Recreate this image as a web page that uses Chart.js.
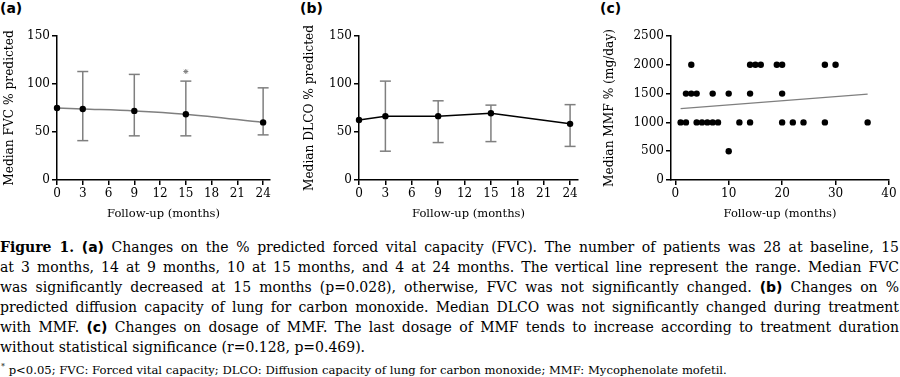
<!DOCTYPE html>
<html><head><meta charset="utf-8">
<script src="https://cdn.jsdelivr.net/npm/chart.js@4"></script>
<style>
body{margin:0;width:900px;height:377px;background:#fff;position:relative;overflow:hidden;font-family:'DejaVu Serif',serif;color:#000}
.panel{position:absolute;top:0;width:300px;height:225px}
.lab{position:absolute;top:0;font:bold 14px 'DejaVu Sans',sans-serif;line-height:17px}
.cap{position:absolute;left:0;top:237px;width:899px;font-size:14px;line-height:20px}
.cap div{text-align:justify;text-align-last:justify;white-space:nowrap}
.cap div.last{text-align-last:left}
.cap b.s{font-family:'DejaVu Sans',sans-serif}
.foot{position:absolute;left:1px;top:360px;font-size:11.6px;line-height:14px;white-space:nowrap}
</style>
</head><body>
<div class="lab" style="left:0">(a)</div>
<div class="lab" style="left:300px">(b)</div>
<div class="lab" style="left:600px">(c)</div>
<div class="panel" style="left:0"><canvas id="ca" width="300" height="225"></canvas></div>
<div class="panel" style="left:300px"><canvas id="cb" width="300" height="225"></canvas></div>
<div class="panel" style="left:600px"><canvas id="cc" width="300" height="225"></canvas></div>
<div class="cap">
<div><b>Figure 1.</b> <b class="s">(a)</b> Changes on the % predicted forced vital capacity (FVC). The number of patients was 28 at baseline, 15</div>
<div>at 3 months, 14 at 9 months, 10 at 15 months, and 4 at 24 months. The vertical line represent the range. Median FVC</div>
<div>was significantly decreased at 15 months (p=0.028), otherwise, FVC was not significantly changed. <b class="s">(b)</b> Changes on %</div>
<div>predicted diffusion capacity of lung for carbon monoxide. Median DLCO was not significantly changed during treatment</div>
<div>with MMF. <b class="s">(c)</b> Changes on dosage of MMF. The last dosage of MMF tends to increase according to treatment duration</div>
<div class="last">without statistical significance (r=0.128, p=0.469).</div>
</div>
<div class="foot"><sup style="font-size:8px">*</sup> p&lt;0.05; FVC: Forced vital capacity; DLCO: Diffusion capacity of lung for carbon monoxide; MMF: Mycophenolate mofetil.</div>
<script>
// ---- data ----
const monthsAB = [0, 3, 9, 15, 24];
const fvcMedian = [75, 74, 72, 68.5, 60];
const fvcLow = [null, 41, 46, 46, 47];
const fvcHigh = [null, 113, 110, 103, 96];
const fvcSigMonths = [15];
const fvcSigMarkY = [113];
const dlcoMedian = [62.5, 66.5, 66.5, 69.5, 58.5];
const dlcoLow = [null, 30, 39, 40, 35];
const dlcoHigh = [null, 103, 82.5, 78, 78.5];
const abXTicks = [0, 3, 6, 9, 12, 15, 18, 21, 24];
const abYTicks = [0, 50, 100, 150];
const mmfMonths = [1,2,4,5,6,7,8,12,14,20,22,24,28,36, 2,3,4,7,10,14,20, 3,14,15,16,19,20,28,30, 10];
const mmfDose   = [1000,1000,1000,1000,1000,1000,1000,1000,1000,1000,1000,1000,1000,1000,
                   1500,1500,1500,1500,1500,1500,1500,
                   2000,2000,2000,2000,2000,2000,2000,2000, 500];
const mmfFitMonths = [1, 36];
const mmfFitDose = [1240, 1490];
const mmfXTicks = [0, 10, 20, 30, 40];
const mmfYTicks = [0, 500, 1000, 1500, 2000, 2500];

const FONT = 'DejaVu Serif';
const GRAY = '#7f7f7f';

function pts(xs, ys) { return xs.map((x, i) => ({x: x, y: ys[i]})); }

function scales(o) {
  const common = (ticks) => ({
    type: 'linear',
    grid: {drawOnChartArea: false, drawTicks: true, tickLength: 5, color: '#000', lineWidth: 1.5},
    border: {display: true, color: '#000', width: 1.5},
    afterBuildTicks: s => { s.ticks = ticks.map(v => ({value: v})); }
  });
  return {
    x: Object.assign(common(o.xticks), {
      min: o.xmin, max: o.xmax,
      ticks: {font: {family: FONT, size: 12}, color: '#000', padding: 2, maxRotation: 0, autoSkip: false, callback: v => String(v)},
      title: {display: true, text: 'Follow-up (months)', font: {family: FONT, size: 11.5}, color: '#000', padding: {top: 0, bottom: 4}},
      afterFit: s => { s.height = 45; }
    }),
    y: Object.assign(common(o.yticks), {
      min: o.ymin, max: o.ymax,
      ticks: {font: {family: FONT, size: 12}, color: '#000', padding: 2, autoSkip: false, callback: v => String(v)},
      title: {display: true, text: o.ytitle, font: {family: FONT, size: 12.2}, color: '#000', padding: {top: 3, bottom: 0}},
      afterFit: s => { s.width = o.yw; }
    })
  };
}

function errorBars(xs, lo, hi) {
  const out = [];
  xs.forEach((x, i) => {
    if (lo[i] == null) return;
    out.push({
      type: 'line', data: [{x: x, y: lo[i]}, {x: x, y: hi[i]}],
      borderColor: GRAY, borderWidth: 1.5, showLine: true,
      pointStyle: 'line', pointRadius: 5.5, pointBorderColor: GRAY, pointBorderWidth: 1.5,
      clip: false, order: 5
    });
  });
  return out;
}

const base = {
  responsive: false, animation: false,
  plugins: {legend: {display: false}, tooltip: {enabled: false}},
};

// (a)
new Chart(document.getElementById('ca'), {
  type: 'line',
  data: {datasets: [
    {data: pts(monthsAB, fvcMedian), borderColor: GRAY, borderWidth: 1.5, cubicInterpolationMode: 'monotone',
     pointRadius: 3.2, pointBackgroundColor: '#000', pointBorderColor: '#000', pointBorderWidth: 0, clip: false, order: 1},
    {data: pts(fvcSigMonths, fvcSigMarkY), showLine: false, pointStyle: 'star', pointRadius: 2.5,
     pointBorderColor: GRAY, pointBorderWidth: 1, clip: false, order: 2},
    ...errorBars(monthsAB, fvcLow, fvcHigh)
  ]},
  options: Object.assign({}, base, {
    layout: {padding: {left: 0, top: 36, right: 30, bottom: 0}},
    scales: scales({xmin: 0, xmax: 24.8, xticks: abXTicks, ymin: 0, ymax: 150, yticks: abYTicks, ytitle: 'Median FVC % predicted', yw: 57})
  })
});

// (b)
new Chart(document.getElementById('cb'), {
  type: 'line',
  data: {datasets: [
    {data: pts(monthsAB, dlcoMedian), borderColor: '#000', borderWidth: 1.5,
     pointRadius: 3.2, pointBackgroundColor: '#000', pointBorderColor: '#000', pointBorderWidth: 0, clip: false, order: 1},
    ...errorBars(monthsAB, dlcoLow, dlcoHigh)
  ]},
  options: Object.assign({}, base, {
    layout: {padding: {left: 0, top: 36, right: 22, bottom: 0}},
    scales: scales({xmin: 0, xmax: 24.9, xticks: abXTicks, ymin: 0, ymax: 150, yticks: abYTicks, ytitle: 'Median DLCO % predicted', yw: 59})
  })
});

// (c)
new Chart(document.getElementById('cc'), {
  type: 'scatter',
  data: {datasets: [
    {data: pts(mmfMonths, mmfDose), pointRadius: 3.2, pointBackgroundColor: '#000', pointBorderColor: '#000', pointBorderWidth: 0, clip: false, order: 1},
    {type: 'line', data: pts(mmfFitMonths, mmfFitDose), borderColor: GRAY, borderWidth: 1.3, pointRadius: 0, showLine: true, clip: false, order: 2}
  ]},
  options: Object.assign({}, base, {
    layout: {padding: {left: 0, top: 36, right: 11, bottom: 0}},
    scales: scales({xmin: -0.8, xmax: 40, xticks: mmfXTicks, ymin: 0, ymax: 2500, yticks: mmfYTicks, ytitle: 'Median MMF % (mg/day)', yw: 71})
  })
});
</script>
</body></html>
